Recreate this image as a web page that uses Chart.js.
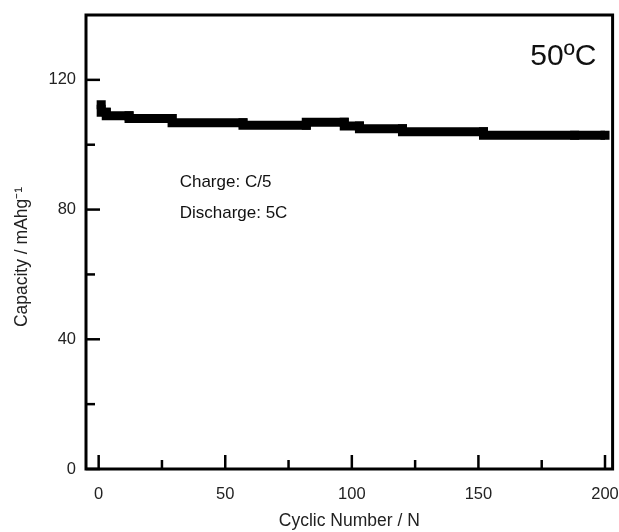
<!DOCTYPE html>
<html>
<head>
<meta charset="utf-8">
<script src="https://cdn.jsdelivr.net/npm/chart.js@4"></script>
<style>
  html, body { margin: 0; padding: 0; background: #fff; }
  #wrap { width: 619px; height: 532px; }
</style>
</head>
<body>
<div id="wrap"><canvas id="chartCap" width="619" height="532"></canvas></div>
<script>
// Settings
const cycleNumbers = [1, 3, 12, 29, 57, 82, 97, 103, 120, 152, 188, 200];
const capacityValues = [112.3, 110, 108.9, 108.1, 106.8, 106, 106.9, 105.8, 104.9, 104, 102.9, 102.9];
const xMajorTicks = [0, 50, 100, 150, 200];
const xMinorTicks = [25, 75, 125, 175];
const yMajorTicks = [0, 40, 80, 120];
const yMinorTicks = [20, 60, 100];
const yTitle = "Capacity / mAhg⁻¹";
const tempLabel = "50ºC";
const noteLines = ["Charge: C/5", "Discharge: 5C"];
const fontName = "'Liberation Sans', Arial, sans-serif";

// inward ticks, box frame, y title and the text notes
const framePlugin = {
  id: "frame",
  afterDraw(chart) {
    const ctx = chart.ctx;
    const area = chart.chartArea;
    const xs = chart.scales.x;
    const ys = chart.scales.y;
    ctx.save();
    ctx.strokeStyle = "#000";
    ctx.lineWidth = 2.5;
    xMajorTicks.concat(xMinorTicks).forEach((v) => {
      const len = xMajorTicks.includes(v) ? 14 : 9;
      const px = xs.getPixelForValue(v);
      ctx.beginPath();
      ctx.moveTo(px, area.bottom);
      ctx.lineTo(px, area.bottom - len);
      ctx.stroke();
    });
    yMajorTicks.concat(yMinorTicks).forEach((v) => {
      const len = yMajorTicks.includes(v) ? 14 : 9;
      const py = ys.getPixelForValue(v);
      ctx.beginPath();
      ctx.moveTo(area.left, py);
      ctx.lineTo(area.left + len, py);
      ctx.stroke();
    });
    ctx.lineWidth = 3;
    ctx.strokeRect(area.left, area.top, area.right - area.left, area.bottom - area.top);

    ctx.fillStyle = "#111";
    ctx.textBaseline = "middle";
    ctx.textAlign = "left";
    ctx.font = "30px " + fontName;
    ctx.fillText(tempLabel, xs.getPixelForValue(170.5), ys.getPixelForValue(127));
    ctx.font = "17px " + fontName;
    ctx.fillText(noteLines[0], xs.getPixelForValue(32), ys.getPixelForValue(88.3));
    ctx.fillText(noteLines[1], xs.getPixelForValue(32), ys.getPixelForValue(78.8));

    // rotated y title, sits a bit below the middle of the plot
    ctx.fillStyle = "#222";
    ctx.font = "17.5px " + fontName;
    ctx.textAlign = "center";
    ctx.translate(22, 257);
    ctx.rotate(-Math.PI / 2);
    ctx.fillText(yTitle, 0, 0);
    ctx.restore();
  },
};

const ctx = document.getElementById("chartCap").getContext("2d");
new Chart(ctx, {
  type: "line",
  data: {
    datasets: [
      {
        data: cycleNumbers.map((c, i) => ({ x: c, y: capacityValues[i] })),
        borderColor: "#000",
        backgroundColor: "#000",
        borderWidth: 9,
        stepped: "after",
        pointStyle: "rect",
        pointRadius: 6.4,
        pointBorderWidth: 0,
      },
    ],
  },
  options: {
    responsive: false,
    animation: false,
    layout: { padding: { top: 15, right: 5, left: 0, bottom: 0 } },
    plugins: {
      legend: { display: false },
      tooltip: { enabled: false },
    },
    scales: {
      x: {
        type: "linear",
        min: -5,
        max: 203,
        grid: { display: false, drawTicks: false },
        border: { display: false },
        ticks: {
          padding: 16,
          color: "#222",
          font: { size: 16.5, family: fontName },
          maxRotation: 0,
          autoSkip: false,
        },
        afterBuildTicks: (scale) => {
          scale.ticks = xMajorTicks.map((v) => ({ value: v }));
        },
        title: {
          display: true,
          text: "Cyclic Number / N",
          color: "#222",
          font: { size: 17.5, family: fontName },
          padding: { top: 2, bottom: 0 },
        },
        afterFit: (scale) => {
          scale.height = 63;
          scale.paddingLeft = 0;
          scale.paddingRight = 0;
        },
      },
      y: {
        min: 0,
        max: 140,
        grid: { display: false, drawTicks: false },
        border: { display: false },
        ticks: {
          padding: 10,
          color: "#222",
          font: { size: 16.5, family: fontName },
          autoSkip: false,
        },
        afterBuildTicks: (scale) => {
          scale.ticks = yMajorTicks.map((v) => ({ value: v }));
        },
        afterFit: (scale) => {
          scale.width = 86;
          scale.paddingTop = 0;
          scale.paddingBottom = 0;
        },
      },
    },
  },
  plugins: [framePlugin],
});
</script>
</body>
</html>
